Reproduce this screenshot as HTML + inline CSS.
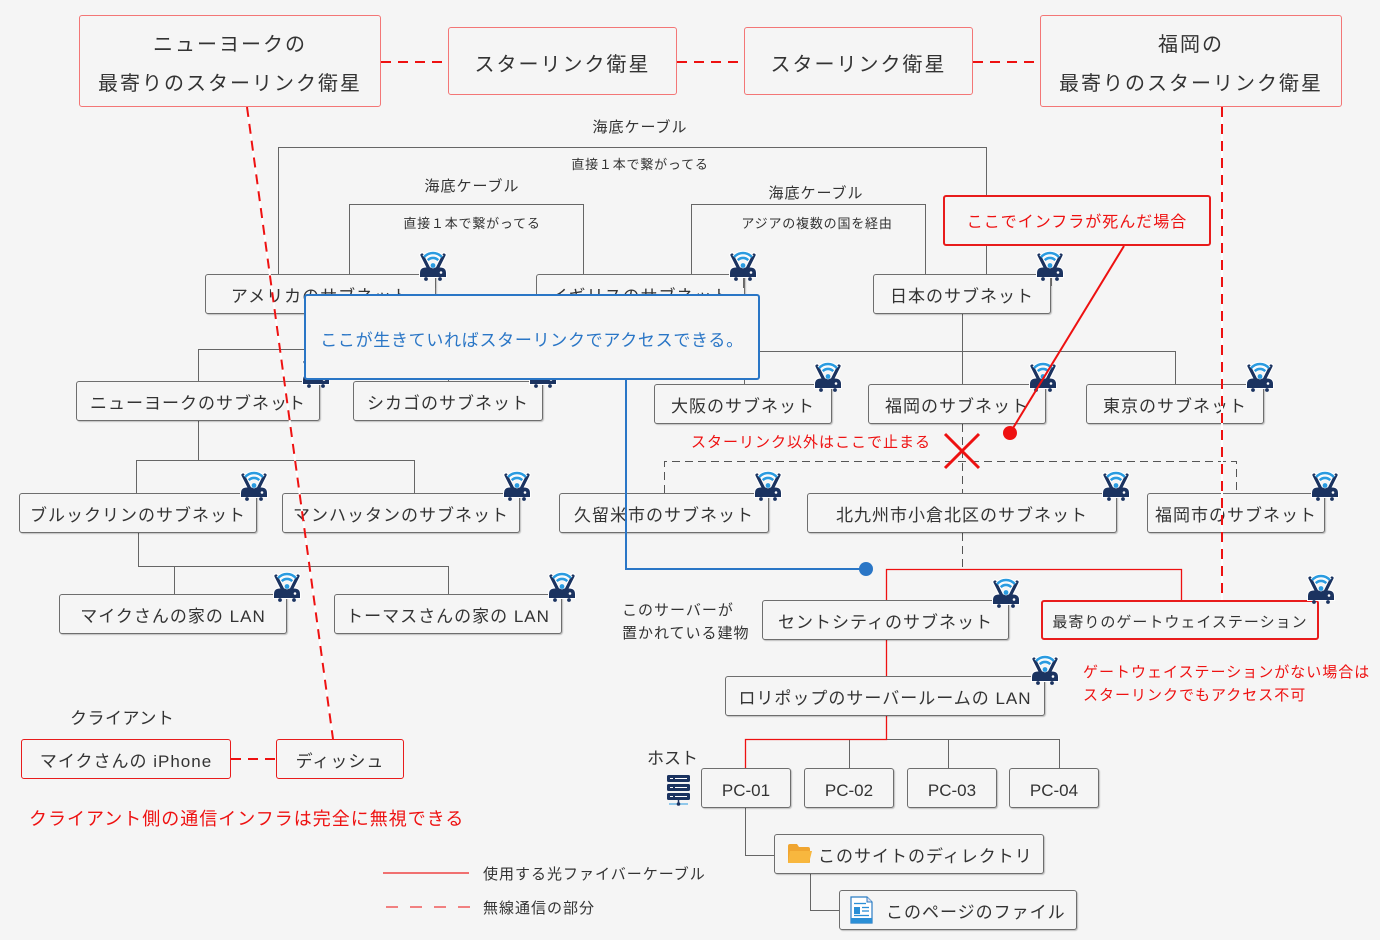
<!DOCTYPE html>
<html><head><meta charset="utf-8">
<style>
html,body{margin:0;padding:0;}
body{width:1380px;height:940px;background:#f5f5f5;position:relative;overflow:hidden;font-family:"Liberation Sans","Noto Sans CJK JP",sans-serif;color:#333;}
.b{position:absolute;box-sizing:border-box;border:1px solid #6e6e6e;border-radius:3px;background:#f5f5f5;display:flex;align-items:center;justify-content:center;font-size:17px;letter-spacing:1px;color:#333;box-shadow:1px 1px 1px rgba(0,0,0,.22);white-space:nowrap;z-index:2;height:40px;line-height:1;padding-top:4px;}
.r{border:1.5px solid #e81c1c;box-shadow:none;}
.s{border:1.8px solid #f37676;box-shadow:none;font-size:20px;letter-spacing:2px;flex-direction:column;line-height:39px;padding-top:8px;}
.t{position:absolute;white-space:nowrap;z-index:2;line-height:20px;}
svg{position:absolute;left:0;top:0;}
</style></head><body>

<!-- layer 1: tree lines -->
<svg width="1380" height="940" style="z-index:1" fill="none">
 <g stroke="#666" stroke-width="1">
  <path d="M278.5,274 V147.5 H986.5 V274"/>
  <path d="M349.5,274 V204.5 H583.5 V274"/>
  <path d="M691.5,274 V204.5 H925.5 V274"/>
  <path d="M320.5,314 V349.5"/>
  <path d="M198.5,381 V349.5 H448.5 V381"/>
  <path d="M198.5,421 V460.5"/>
  <path d="M136.5,493 V460.5 H414.5 V493"/>
  <path d="M138.5,533 V566.5 H448.5 V594"/>
  <path d="M174.5,566.5 V594"/>
  <path d="M962.5,314 V384"/>
  <path d="M744.5,384 V351.5 H1175.5 V384"/>
  <path d="M886,739.5 H1059.5 V768"/>
  <path d="M849.5,739.5 V768"/>
  <path d="M948.5,739.5 V768"/>
  <path d="M745.5,808 V855.5 H775"/>
  <path d="M810.5,874 V910.5 H839"/>
 </g>
 <g stroke="#555" stroke-width="1" stroke-dasharray="8 5">
  <path d="M962.5,424 V493"/>
  <path d="M664.5,493 V461.5 H1236.5 V493"/>
  <path d="M962.5,533 V569"/>
 </g>
 <g stroke="#ee1111" stroke-width="1.3">
  <path d="M886.5,600 V569.5 H1181.5 V600"/>
  <path d="M886.5,640 V676"/>
  <path d="M886.5,716 V739.5 H745.5 V768"/>
 </g>
</svg>

<!-- satellites -->
<div class="b s" style="left:79px;top:15px;width:302px;height:92px;"><div>ニューヨークの</div><div>最寄りのスターリンク衛星</div></div>
<div class="b s" style="left:448px;top:27px;width:229px;height:68px;"><div>スターリンク衛星</div></div>
<div class="b s" style="left:744px;top:27px;width:229px;height:68px;"><div>スターリンク衛星</div></div>
<div class="b s" style="left:1040px;top:15px;width:302px;height:92px;"><div>福岡の</div><div>最寄りのスターリンク衛星</div></div>

<!-- labels -->
<div class="t" style="left:540px;top:118px;width:200px;text-align:center;font-size:15px;letter-spacing:1px;">海底ケーブル</div>
<div class="t" style="left:540px;top:155px;width:200px;text-align:center;font-size:13px;letter-spacing:0.8px;">直接１本で繋がってる</div>
<div class="t" style="left:372px;top:177px;width:200px;text-align:center;font-size:15px;letter-spacing:1px;">海底ケーブル</div>
<div class="t" style="left:372px;top:214px;width:200px;text-align:center;font-size:13px;letter-spacing:0.8px;">直接１本で繋がってる</div>
<div class="t" style="left:716px;top:184px;width:200px;text-align:center;font-size:15px;letter-spacing:1px;">海底ケーブル</div>
<div class="t" style="left:717px;top:214px;width:200px;text-align:center;font-size:13px;letter-spacing:0.8px;">アジアの複数の国を経由</div>

<!-- callout -->
<div class="b" style="left:943px;top:195px;width:268px;height:51px;border:2px solid #e81c1c;box-shadow:none;color:#ee1111;font-size:16px;">ここでインフラが死んだ場合</div>

<!-- subnet boxes -->
<div class="b" style="left:205px;top:274px;width:231px;">アメリカのサブネット</div>
<div class="b" style="left:536px;top:274px;width:209px;">イギリスのサブネット</div>
<div class="b" style="left:873px;top:274px;width:178px;">日本のサブネット</div>
<div class="b" style="left:76px;top:381px;width:244px;">ニューヨークのサブネット</div>
<div class="b" style="left:353px;top:381px;width:190px;">シカゴのサブネット</div>
<div class="b" style="left:654px;top:384px;width:178px;">大阪のサブネット</div>
<div class="b" style="left:868px;top:384px;width:178px;">福岡のサブネット</div>
<div class="b" style="left:1086px;top:384px;width:178px;">東京のサブネット</div>
<div class="b" style="left:19px;top:493px;width:238px;">ブルックリンのサブネット</div>
<div class="b" style="left:282px;top:493px;width:238px;">マンハッタンのサブネット</div>
<div class="b" style="left:559px;top:493px;width:210px;">久留米市のサブネット</div>
<div class="b" style="left:807px;top:493px;width:310px;">北九州市小倉北区のサブネット</div>
<div class="b" style="left:1147px;top:493px;width:178px;">福岡市のサブネット</div>
<div class="b" style="left:59px;top:594px;width:228px;">マイクさんの家の LAN</div>
<div class="b" style="left:334px;top:594px;width:228px;">トーマスさんの家の LAN</div>
<div class="b" style="left:762px;top:600px;width:247px;">セントシティのサブネット</div>
<div class="b r" style="left:1041px;top:600px;width:278px;border-width:2px;font-size:15px;">最寄りのゲートウェイステーション</div>
<div class="b" style="left:725px;top:676px;width:320px;">ロリポップのサーバールームの LAN</div>
<div class="b" style="left:701px;top:768px;width:90px;letter-spacing:0;">PC-01</div>
<div class="b" style="left:804px;top:768px;width:90px;letter-spacing:0;">PC-02</div>
<div class="b" style="left:907px;top:768px;width:90px;letter-spacing:0;">PC-03</div>
<div class="b" style="left:1009px;top:768px;width:90px;letter-spacing:0;">PC-04</div>
<div class="b" style="left:774px;top:834px;width:270px;justify-content:flex-start;padding-left:43px;">このサイトのディレクトリ</div>
<div class="b" style="left:839px;top:890px;width:238px;justify-content:flex-start;padding-left:46px;">このページのファイル</div>

<div class="b r" style="left:21px;top:739px;width:210px;">マイクさんの iPhone</div>
<div class="b r" style="left:276px;top:739px;width:128px;">ディッシュ</div>

<!-- free text -->
<div class="t" style="left:691px;top:433px;font-size:15px;letter-spacing:1px;color:#ee1111;">スターリンク以外はここで止まる</div>
<div class="t" style="left:622px;top:601px;font-size:15px;letter-spacing:1px;">このサーバーが</div>
<div class="t" style="left:622px;top:624px;font-size:15px;letter-spacing:1px;">置かれている建物</div>
<div class="t" style="left:1083px;top:663px;font-size:15px;letter-spacing:1px;color:#ee1111;">ゲートウェイステーションがない場合は</div>
<div class="t" style="left:1083px;top:686px;font-size:15px;letter-spacing:1px;color:#ee1111;">スターリンクでもアクセス不可</div>
<div class="t" style="left:647px;top:749px;font-size:17px;">ホスト</div>
<div class="t" style="left:70px;top:709px;font-size:17px;letter-spacing:0.5px;">クライアント</div>
<div class="t" style="left:29px;top:809px;font-size:18px;letter-spacing:1px;color:#ee1111;">クライアント側の通信インフラは完全に無視できる</div>
<div class="t" style="left:483px;top:865px;font-size:15px;letter-spacing:1px;">使用する光ファイバーケーブル</div>
<div class="t" style="left:483px;top:899px;font-size:15px;letter-spacing:1px;">無線通信の部分</div>

<!-- layer 3: icons -->
<svg width="1380" height="940" style="z-index:3">
 <defs>
  <g id="rt">
   <path d="M2,4 L9,18 M24,4 L17,18" stroke="#fff" stroke-width="5.5" stroke-linecap="round" fill="none"/>
   <path d="M-1,27 L-1,22 Q-1,15.5 6,15.5 L20,15.5 Q27,15.5 27,22 L27,27 Z" fill="#fff"/>
   <path d="M2,4 L9,18 M24,4 L17,18" stroke="#1b3360" stroke-width="3.2" stroke-linecap="round" fill="none"/>
   <path d="M0,26 L0,22 Q0,16.5 6,16.5 L20,16.5 Q26,16.5 26,22 L26,26 Z" fill="#1b3360"/>
   <circle cx="21" cy="21.5" r="1.3" fill="#fff"/>
   <circle cx="6" cy="28" r="1.9" fill="#1b3360"/>
   <circle cx="20" cy="28" r="1.9" fill="#1b3360"/>
   <path d="M4.2,6.1 A11.5,11.5 0 0 1 21.8,6.1" stroke="#fff" stroke-width="4.5" fill="none"/>
   <path d="M4.2,6.1 A11.5,11.5 0 0 1 21.8,6.1" stroke="#2a9be0" stroke-width="2.6" fill="none"/>
   <path d="M7.8,9.2 A7.2,7.2 0 0 1 18.2,9.2" stroke="#fff" stroke-width="4" fill="none"/>
   <path d="M7.8,9.2 A7.2,7.2 0 0 1 18.2,9.2" stroke="#2a9be0" stroke-width="2.6" fill="none"/>
   <circle cx="13" cy="14.5" r="2.9" fill="#fff"/>
   <circle cx="13" cy="14.5" r="2.4" fill="#2a9be0"/>
  </g>
 </defs>
 <g stroke="#666" stroke-width="1">
  <path d="M435.5,278 V288"/><path d="M743.5,278 V288"/><path d="M1051.5,278 V286"/>
 </g>
 <use href="#rt" transform="translate(420,251)"/>
 <use href="#rt" transform="translate(730,251)"/>
 <use href="#rt" transform="translate(1037,251)"/>
 <use href="#rt" transform="translate(303,358)"/>
 <use href="#rt" transform="translate(530,358)"/>
 <use href="#rt" transform="translate(815,362)"/>
 <use href="#rt" transform="translate(1030,362)"/>
 <use href="#rt" transform="translate(1247,362)"/>
 <use href="#rt" transform="translate(241,471)"/>
 <use href="#rt" transform="translate(504,471)"/>
 <use href="#rt" transform="translate(755,471)"/>
 <use href="#rt" transform="translate(1103,471)"/>
 <use href="#rt" transform="translate(1312,471)"/>
 <use href="#rt" transform="translate(274,572)"/>
 <use href="#rt" transform="translate(549,572)"/>
 <use href="#rt" transform="translate(993,578)"/>
 <use href="#rt" transform="translate(1308,574)"/>
 <use href="#rt" transform="translate(1032,655)"/>

 <!-- server icon -->
 <g fill="#1b3360">
  <rect x="667" y="775" width="23" height="7" rx="1.5"/>
  <rect x="667" y="784" width="23" height="7" rx="1.5"/>
  <rect x="667" y="793" width="23" height="7" rx="1.5"/>
 </g>
 <g stroke="#fff" stroke-width="1">
  <path d="M670,778.5 H673 M675,778.5 H687"/>
  <path d="M670,787.5 H673 M675,787.5 H687"/>
  <path d="M670,796.5 H673 M675,796.5 H687"/>
 </g>
 <path d="M678.5,800 V804" stroke="#1b3360" stroke-width="1.5"/>
 <path d="M669,804 H688" stroke="#2a9be0" stroke-width="1"/>
 <circle cx="678.5" cy="804" r="1.8" fill="#1b3360"/>

 <!-- folder icon -->
 <path d="M788,846 Q788,844 790,844 L797,844 L799,847 L808,847 Q810,847 810,849 L810,862 Q810,863 809,863 L789,863 Q788,863 788,862 Z" fill="#f0a530"/>
 <path d="M790,851 L812,851 L809,863 L788,863 Z" fill="#f8b73e"/>

 <!-- doc icon -->
 <path d="M851,897 L867,897 L872,902 L872,923 L851,923 Z" fill="#fff" stroke="#2b7dc4" stroke-width="1.2"/>
 <path d="M867,897 L867,902 L872,902" fill="#dde" stroke="#2b7dc4" stroke-width="1"/>
 <rect x="851" y="918" width="21" height="5" fill="#2b8fd6"/>
 <rect x="854" y="907" width="6" height="7" fill="#2b8fd6"/>
 <g stroke="#2b8fd6" stroke-width="1.3">
  <path d="M854,903.5 H866"/><path d="M862,907.5 H869"/><path d="M862,911 H869"/><path d="M854,915.5 H869"/>
 </g>
</svg>

<!-- blue callout -->
<div class="b" style="left:304px;top:294px;width:456px;height:86px;border:2px solid #2a76c6;box-shadow:none;color:#2a76c6;font-size:17px;letter-spacing:0.7px;z-index:4;padding-top:6px;">ここが生きていればスターリンクでアクセスできる。</div>

<!-- layer 5: overlays -->
<svg width="1380" height="940" style="z-index:5" fill="none">
 <path d="M626,380 V569 H866" stroke="#2a76c6" stroke-width="2"/>
 <circle cx="866" cy="569" r="7" fill="#2a76c6"/>

 <g stroke="#fff" stroke-width="2">
  <path d="M247,107 L333,739"/>
  <path d="M1222,107 V600"/>
 </g>
 <g stroke="#ee1111" stroke-width="2" stroke-dasharray="10 7">
  <path d="M381,62 H448"/>
  <path d="M677,62 H744"/>
  <path d="M973,62 H1040"/>
  <path d="M247,107 L333,739"/>
  <path d="M1222,107 V600"/>
  <path d="M231,759 H276"/>
 </g>

 <path d="M1124,246 L1010,433" stroke="#ee1111" stroke-width="2"/>
 <circle cx="1010" cy="433" r="7" fill="#ee1111"/>

 <path d="M945,434 L979,468 M979,434 L945,468" stroke="#ee1111" stroke-width="3"/>

 <path d="M383,873 H469" stroke="#ee2222" stroke-width="1.3"/>
 <path d="M386,907 H470" stroke="#f05a5a" stroke-width="1.5" stroke-dasharray="12 12"/>
</svg>

</body></html>
